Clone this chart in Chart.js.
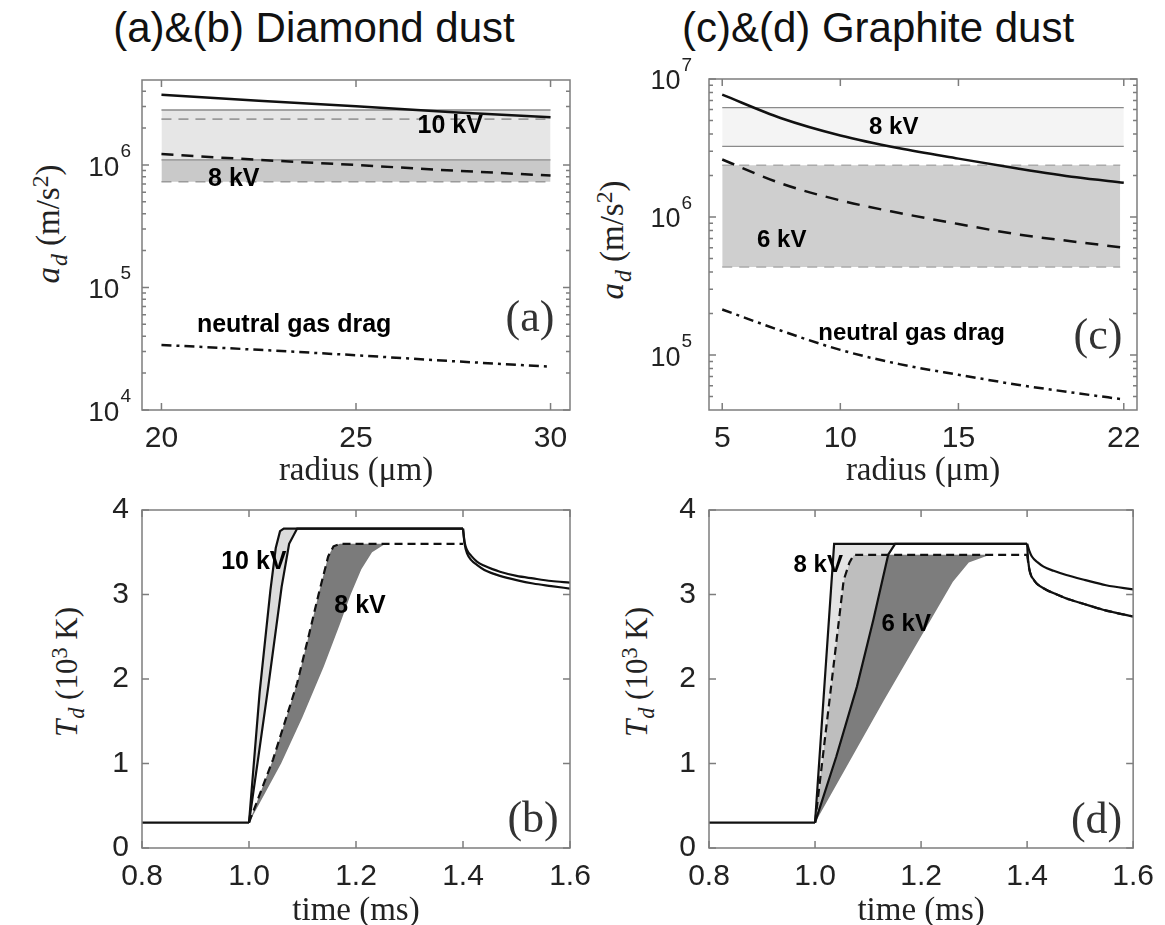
<!DOCTYPE html>
<html>
<head>
<meta charset="utf-8">
<script src="https://cdn.jsdelivr.net/npm/chart.js@4.4.1/dist/chart.umd.min.js"></script>
<style>
  body { margin: 0; background: #fff; width: 1165px; height: 925px; position: relative; overflow: hidden; }
  canvas { position: absolute; left: 0; top: 0; }
  .title { position: absolute; top: 7px; font-family: 'Liberation Sans', Arial, sans-serif; font-size: 42px; line-height: 42px; color: #111; white-space: nowrap; transform: translateX(-50%); }
  .ylab { position: absolute; font-family: 'Liberation Serif', 'Times New Roman', serif; line-height: 1; color: #222; white-space: nowrap; transform: translate(-50%, -50%) rotate(-90deg); }
  .sub { font-size: 0.72em; position: relative; top: 0.32em; margin-left: 1px; }
  .sup { font-size: 0.72em; position: relative; top: -0.45em; }
</style>
</head>
<body>
<div class="title" style="left:314px">(a)&amp;(b) Diamond dust</div>
<div class="title" style="left:878px">(c)&amp;(d) Graphite dust</div>
<div class="ylab" style="left:48px;top:224px;font-size:33px"><i>a</i><span class="sub"><i>d</i></span> (m/s<span class="sup">2</span>)</div>
<div class="ylab" style="left:612px;top:240px;font-size:33px"><i>a</i><span class="sub"><i>d</i></span> (m/s<span class="sup">2</span>)</div>
<div class="ylab" style="left:66px;top:672px;font-size:31px"><i>T</i><span class="sub"><i>d</i></span> (10<span class="sup">3</span> K)</div>
<div class="ylab" style="left:636px;top:672px;font-size:31px"><i>T</i><span class="sub"><i>d</i></span> (10<span class="sup">3</span> K)</div>
<canvas id="chartA" width="1165" height="925"></canvas>
<canvas id="chartB" width="1165" height="925"></canvas>
<canvas id="chartC" width="1165" height="925"></canvas>
<canvas id="chartD" width="1165" height="925"></canvas>
<script>
// ---------- (a) diamond dust: acceleration vs radius ----------
const radiusA = [20, 22.5, 25, 27.5, 30];
const accelA10kV = [3.75e6, 3.35e6, 3.02e6, 2.7e6, 2.45e6];
const accelA8kV = [1.23e6, 1.1e6, 1.0e6, 9.0e5, 8.2e5];
const dragA = [3.4e4, 3.1e4, 2.8e4, 2.5e4, 2.26e4];
const bandXA = [20, 30];
const bandA10kV = [2.81e6, 1.1e6];   // thin solid edges
const bandA8kV = [2.37e6, 7.3e5];    // thin dashed edges
const radiusTicksA = [20, 25, 30];
const radiusLabelsA = ['20', '25', '30'];
const accelTicksA = [1e4, 1e5, 1e6];

// ---------- (c) graphite dust: acceleration vs radius ----------
const radiusC = [5, 7.5, 10, 12.5, 15, 17.5, 20, 22];
const accelC8kV = [7.7e6, 5.2e6, 3.9e6, 3.15e6, 2.65e6, 2.25e6, 1.94e6, 1.77e6];
const accelC6kV = [2.61e6, 1.75e6, 1.32e6, 1.07e6, 8.9e5, 7.5e5, 6.6e5, 6.0e5];
const dragC = [2.14e5, 1.5e5, 1.09e5, 8.6e4, 7.2e4, 6.1e4, 5.3e4, 4.77e4];
const bandXC = [5, 22];
const boxXC = [5, 21.85];
const bandC8kV = [6.2e6, 3.25e6];
const bandC6kV = [2.37e6, 4.35e5];
const radiusTicksC = [5, 10, 15, 22];
const radiusLabelsC = ['5', '10', '15', '22'];
const accelTicksC = [1e5, 1e6, 1e7];

// ---------- (b) diamond dust: temperature vs time ----------
const tBase = [0.8, 1.0];
const TBase = [0.3, 0.3];
const tB10a = [1.0, 1.02, 1.04, 1.05, 1.058, 1.065, 1.09, 1.4, 1.403, 1.408, 1.415, 1.426, 1.44, 1.455, 1.469, 1.5, 1.531, 1.565, 1.6];
const TB10a = [0.3, 1.85, 3.05, 3.55, 3.75, 3.78, 3.78, 3.78, 3.62, 3.52, 3.46, 3.39, 3.34, 3.3, 3.27, 3.22, 3.19, 3.16, 3.14];
const tB10b = [1.0, 1.018, 1.036, 1.061, 1.075, 1.09, 1.4, 1.403, 1.408, 1.415, 1.426, 1.44, 1.455, 1.469, 1.5, 1.531, 1.565, 1.6];
const TB10b = [0.3, 1.1, 1.91, 3.09, 3.6, 3.78, 3.78, 3.6, 3.48, 3.41, 3.35, 3.29, 3.25, 3.22, 3.17, 3.13, 3.1, 3.07];
const tB8 = [1.0, 1.045, 1.09, 1.115, 1.13, 1.148, 1.158, 1.17, 1.255, 1.4];
const TB8 = [0.3, 1.05, 1.95, 2.6, 3.0, 3.45, 3.57, 3.6, 3.6, 3.6];
const tB8edge = [1.0, 1.06, 1.1, 1.14, 1.17, 1.19, 1.21, 1.23, 1.255];
const TB8edge = [0.3, 1.0, 1.55, 2.15, 2.65, 3.0, 3.3, 3.5, 3.6];

// ---------- (d) graphite dust: temperature vs time ----------
const tD8 = [1.0, 1.036, 1.151, 1.4, 1.404, 1.409, 1.42, 1.431, 1.45, 1.474, 1.51, 1.549, 1.6];
const TD8 = [0.3, 3.6, 3.6, 3.6, 3.52, 3.45, 3.38, 3.33, 3.28, 3.23, 3.17, 3.11, 3.06];
const tD8dash = [1.0, 1.054, 1.065, 1.073, 1.138, 1.33, 1.4, 1.404, 1.412, 1.418, 1.435, 1.456, 1.48, 1.506, 1.543, 1.57, 1.6];
const TD8dash = [0.3, 3.17, 3.38, 3.47, 3.47, 3.47, 3.47, 3.3, 3.18, 3.13, 3.06, 3.0, 2.94, 2.89, 2.82, 2.78, 2.74];
const tD6 = [1.0, 1.04, 1.079, 1.11, 1.138, 1.151, 1.4, 1.402, 1.406, 1.412, 1.418, 1.435, 1.456, 1.48, 1.506, 1.543, 1.57, 1.6];
const TD6 = [0.3, 1.08, 1.91, 2.7, 3.47, 3.6, 3.6, 3.4, 3.25, 3.18, 3.13, 3.06, 3.0, 2.94, 2.89, 2.82, 2.78, 2.74];
const tD6edge = [1.0, 1.13, 1.26, 1.29, 1.33];
const TD6edge = [0.3, 1.75, 3.15, 3.38, 3.47];

const timeTicks = [0.8, 1.0, 1.2, 1.4, 1.6];
const timeLabels = ['0.8', '1.0', '1.2', '1.4', '1.6'];
const tempTicks = [0, 1, 2, 3, 4];
const tempLabels = ['0', '1', '2', '3', '4'];

// in-plot annotations: [text, x, y]
const notesA = [['10 kV', 27.42, 2.08e6], ['8 kV', 21.86, 7.7e5], ['neutral gas drag', 23.41, 4.9e4]];
const notesC = [['8 kV', 12.26, 4.43e6], ['6 kV', 7.52, 6.78e5], ['neutral gas drag', 13.02, 1.44e5]];
const notesB = [['10 kV', 1.009, 3.38], ['8 kV', 1.2075, 2.86]];
const notesD = [['8 kV', 1.006, 3.34], ['6 kV', 1.172, 2.65]];
const tagA = ['(a)', 29.47, 5.53e4];
const tagC = ['(c)', 20.91, 1.34e5];
const tagB = ['(b)', 1.531, 0.33];
const tagD = ['(d)', 1.531, 0.31];

Chart.defaults.font.family = "'Liberation Sans', Arial, sans-serif";
Chart.defaults.color = '#222';

const W = 1165, H = 925;
const boxA = { left: 142, top: 80, right: 570, bottom: 410 };
const boxB = { left: 142, top: 510, right: 570, bottom: 848 };
const boxC = { left: 709, top: 79, right: 1137, bottom: 410 };
const boxD = { left: 709, top: 510, right: 1137, bottom: 848 };

function pts(xs, ys, lo = -Infinity, hi = Infinity) {
  const out = [];
  xs.forEach((x, i) => { if (x >= lo && x <= hi) out.push({ x: x, y: ys[i] }); });
  return out;
}

function line(data, color, width, dash, extra) {
  return Object.assign({ data: data, borderColor: color, borderWidth: width, borderDash: dash || [],
    fill: false, pointRadius: 0, tension: 0 }, extra || {});
}

function area(data, target, color) {
  return { data: data, borderWidth: 0, borderColor: 'rgba(0,0,0,0)', backgroundColor: color,
    fill: target, pointRadius: 0, tension: 0 };
}

const SMOOTH = { cubicInterpolationMode: 'monotone' };

// frame, inward tick marks, log tick labels and in-plot text
function decor(cfg) {
  return {
    id: 'decor',
    afterDatasetsDraw(chart) {
      const { ctx, chartArea: a, scales: { x, y } } = chart;
      ctx.save();
      ctx.strokeStyle = '#7d7d7d';
      ctx.lineWidth = 1.5;
      ctx.strokeRect(a.left, a.top, a.right - a.left, a.bottom - a.top);
      ctx.beginPath();
      x.ticks.forEach(t => {
        const px = x.getPixelForValue(t.value);
        ctx.moveTo(px, a.bottom); ctx.lineTo(px, a.bottom - 7);
        ctx.moveTo(px, a.top); ctx.lineTo(px, a.top + 7);
      });
      y.ticks.forEach(t => {
        const py = y.getPixelForValue(t.value);
        ctx.moveTo(a.left, py); ctx.lineTo(a.left + 7, py);
        ctx.moveTo(a.right, py); ctx.lineTo(a.right - 7, py);
      });
      if (y.type === 'logarithmic') {
        for (let e = Math.floor(Math.log10(y.min)); e <= Math.ceil(Math.log10(y.max)); e++) {
          for (let m = 2; m <= 9; m++) {
            const v = m * Math.pow(10, e);
            if (v <= y.min || v >= y.max) continue;
            const py = y.getPixelForValue(v);
            ctx.moveTo(a.left, py); ctx.lineTo(a.left + 4, py);
            ctx.moveTo(a.right, py); ctx.lineTo(a.right - 4, py);
          }
        }
      }
      ctx.stroke();
      if (y.type === 'logarithmic') {
        // "10" with a raised exponent
        ctx.fillStyle = '#222';
        ctx.textAlign = 'right';
        y.ticks.forEach(t => {
          const py = y.getPixelForValue(t.value);
          const exp = String(Math.round(Math.log10(t.value)));
          const xr = a.left - cfg.gap;
          ctx.font = "19px 'Liberation Sans', Arial, sans-serif";
          ctx.textBaseline = 'alphabetic';
          ctx.fillText(exp, xr, py - 8);
          const ew = ctx.measureText(exp).width;
          ctx.font = cfg.tickFont;
          ctx.textBaseline = 'middle';
          ctx.fillText('10', xr - ew - 1, py + 3);
        });
      }
      ctx.fillStyle = '#000';
      ctx.textAlign = 'center';
      ctx.textBaseline = 'middle';
      ctx.font = cfg.noteFont;
      cfg.notes.forEach(n => ctx.fillText(n[0], x.getPixelForValue(n[1]), y.getPixelForValue(n[2])));
      ctx.fillStyle = '#333';
      ctx.font = "44px 'Liberation Serif', 'Times New Roman', serif";
      ctx.fillText(cfg.tag[0], x.getPixelForValue(cfg.tag[1]), y.getPixelForValue(cfg.tag[2]));
      ctx.restore();
    }
  };
}

function makeChart(id, box, datasets, xOpt, yOpt, xTitle, deco) {
  const upper = box.bottom < 500;
  const xh = upper ? 90 : 77;
  return new Chart(document.getElementById(id), {
    type: 'line',
    data: { datasets: datasets },
    options: {
      responsive: false,
      animation: false,
      events: [],
      layout: { padding: { left: 0, top: box.top, right: W - box.right, bottom: H - box.bottom - xh } },
      plugins: {
        legend: { display: false },
        tooltip: { enabled: false },
        filler: { propagate: false }
      },
      scales: {
        x: Object.assign({
          type: 'linear',
          grid: { display: false, drawTicks: false },
          border: { display: false },
          ticks: Object.assign({ padding: 11, color: '#222', font: { size: 30 }, maxRotation: 0, autoSkip: false }, xOpt.ticks),
          title: {
            display: true, text: xTitle, color: '#222',
            font: { family: "'Liberation Serif', 'Times New Roman', serif", size: 33, lineHeight: upper ? 1.2 : 0.8 },
            padding: { top: 0, bottom: upper ? 9 : 0 }
          },
          afterFit: s => { s.height = xh; }
        }, xOpt.scale),
        y: Object.assign({
          grid: { display: false, drawTicks: false },
          border: { display: false },
          ticks: Object.assign({ padding: 13, color: '#222', font: { size: 30 } }, yOpt.ticks),
          afterFit: s => { s.width = box.left; }
        }, yOpt.scale)
      }
    },
    plugins: [decor(deco)]
  });
}

const SOLID = [];
const DASH = [12, 8];
const DASHDOT = [10, 5, 3, 5];
const GREYDASH = [10, 7];
const TDASH = [8, 5];

// ---- (a) ----
makeChart('chartA', boxA, [
  line(pts(radiusA, accelA10kV), '#111', 2.5),
  line(pts(radiusA, accelA8kV), '#111', 2.5, DASH),
  line(pts(radiusA, dragA), '#111', 2.5, DASHDOT),
  line(pts(bandXA, [bandA10kV[0], bandA10kV[0]]), '#8a8a8a', 1.3),
  line(pts(bandXA, [bandA10kV[1], bandA10kV[1]]), '#8a8a8a', 1.3),
  line(pts(bandXA, [bandA8kV[0], bandA8kV[0]]), '#9a9a9a', 1.6, GREYDASH),
  line(pts(bandXA, [bandA8kV[1], bandA8kV[1]]), '#9a9a9a', 1.6, GREYDASH),
  area(pts(bandXA, [bandA10kV[0], bandA10kV[0]]), 8, '#e6e6e6'),
  area(pts(bandXA, [bandA10kV[1], bandA10kV[1]]), false, 'transparent'),
  area(pts(bandXA, [bandA10kV[1], bandA10kV[1]]), 10, '#c9c9c9'),
  area(pts(bandXA, [bandA8kV[1], bandA8kV[1]]), false, 'transparent')
], {
  scale: { min: 19.5, max: 30.5, afterBuildTicks: s => { s.ticks = radiusTicksA.map(v => ({ value: v })); } },
  ticks: { callback: (v, i) => radiusLabelsA[i] }
}, {
  scale: { type: 'logarithmic', min: 1e4, max: 4.94e6, afterBuildTicks: s => { s.ticks = accelTicksA.map(v => ({ value: v })); } },
  ticks: { display: false }
}, 'radius (\u03bcm)', {
  gap: 11, tickFont: "28px 'Liberation Sans', Arial, sans-serif",
  noteFont: "bold 25px 'Liberation Sans', Arial, sans-serif", notes: notesA, tag: tagA
});

// ---- (c) ----
makeChart('chartC', boxC, [
  line(pts(radiusC, accelC8kV), '#111', 2.5, SOLID, SMOOTH),
  line(pts(radiusC, accelC6kV), '#111', 2.5, [13, 9], SMOOTH),
  line(pts(radiusC, dragC), '#111', 2.5, DASHDOT, SMOOTH),
  line(pts(bandXC, [bandC8kV[0], bandC8kV[0]]), '#8a8a8a', 1.3),
  line(pts(bandXC, [bandC8kV[1], bandC8kV[1]]), '#8a8a8a', 1.3),
  line(pts(boxXC, [bandC6kV[0], bandC6kV[0]]), '#aaaaaa', 1.6, GREYDASH),
  line(pts(boxXC, [bandC6kV[1], bandC6kV[1]]), '#aaaaaa', 1.6, GREYDASH),
  area(pts(bandXC, [bandC8kV[0], bandC8kV[0]]), 8, '#f4f4f4'),
  area(pts(bandXC, [bandC8kV[1], bandC8kV[1]]), false, 'transparent'),
  area(pts(boxXC, [bandC6kV[0], bandC6kV[0]]), 10, '#cfcfcf'),
  area(pts(boxXC, [bandC6kV[1], bandC6kV[1]]), false, 'transparent')
], {
  scale: { min: 4.44, max: 22.56, afterBuildTicks: s => { s.ticks = radiusTicksC.map(v => ({ value: v })); } },
  ticks: { callback: (v, i) => radiusLabelsC[i] }
}, {
  scale: { type: 'logarithmic', min: 4e4, max: 1e7, afterBuildTicks: s => { s.ticks = accelTicksC.map(v => ({ value: v })); } },
  ticks: { display: false }
}, 'radius (\u03bcm)', {
  gap: 17, tickFont: "27px 'Liberation Sans', Arial, sans-serif",
  noteFont: "bold 24px 'Liberation Sans', Arial, sans-serif", notes: notesC, tag: tagC
});

const timeX = {
  scale: { min: 0.8, max: 1.6, afterBuildTicks: s => { s.ticks = timeTicks.map(v => ({ value: v })); } },
  ticks: { callback: (v, i) => timeLabels[i] }
};
const tempY = {
  scale: { type: 'linear', min: 0, max: 4, afterBuildTicks: s => { s.ticks = tempTicks.map(v => ({ value: v })); } },
  ticks: { callback: (v, i) => tempLabels[i] }
};

// heating part drawn straight, cooling part (t >= 1.4 ms) smoothed
function tempCurve(ts, Ts, dash) {
  return [
    line(pts(ts, Ts, 0, 1.4), '#111', 2.2, dash),
    line(pts(ts, Ts, 1.4, 2), '#111', 2.2, dash, SMOOTH)
  ];
}

// ---- (b) ----
makeChart('chartB', boxB, [
  line(pts(tBase, TBase), '#111', 2.2),
  ...tempCurve(tB10a, TB10a),
  ...tempCurve(tB10b, TB10b),
  line(pts(tB8, TB8), '#111', 2.2, TDASH),
  area(pts(tB10a, TB10a, 1.0, 1.09), 7, '#dcdcdc'),
  area(pts(tB10b, TB10b, 1.0, 1.09), false, 'transparent'),
  area(pts(tB8, TB8, 1.0, 1.255), 9, '#7b7b7b'),
  area(pts(tB8edge, TB8edge), false, 'transparent')
], timeX, tempY, 'time (ms)', {
  gap: 13, noteFont: "bold 25px 'Liberation Sans', Arial, sans-serif", notes: notesB, tag: tagB
});

// ---- (d) ----
makeChart('chartD', boxD, [
  line(pts(tBase, TBase), '#111', 2.2),
  ...tempCurve(tD8, TD8),
  ...tempCurve(tD6, TD6),
  ...tempCurve(tD8dash, TD8dash, TDASH),
  area(pts(tD8, TD8, 1.0, 1.151), 8, '#e4e4e4'),
  area(pts(tD8dash, TD8dash, 1.0, 1.138).concat(pts(tD6, TD6, 1.14, 1.151)), false, 'transparent'),
  area(pts(tD8dash, TD8dash, 1.0, 1.138), 10, '#bebebe'),
  area(pts(tD6, TD6, 1.0, 1.138), false, 'transparent'),
  area(pts(tD6, TD6, 1.0, 1.138).concat(pts(tD8dash, TD8dash, 1.14, 1.33)), 12, '#7d7d7d'),
  area(pts(tD6edge, TD6edge), false, 'transparent')
], timeX, tempY, 'time (ms)', {
  gap: 13, noteFont: "bold 24px 'Liberation Sans', Arial, sans-serif", notes: notesD, tag: tagD
});
</script>
</body>
</html>
